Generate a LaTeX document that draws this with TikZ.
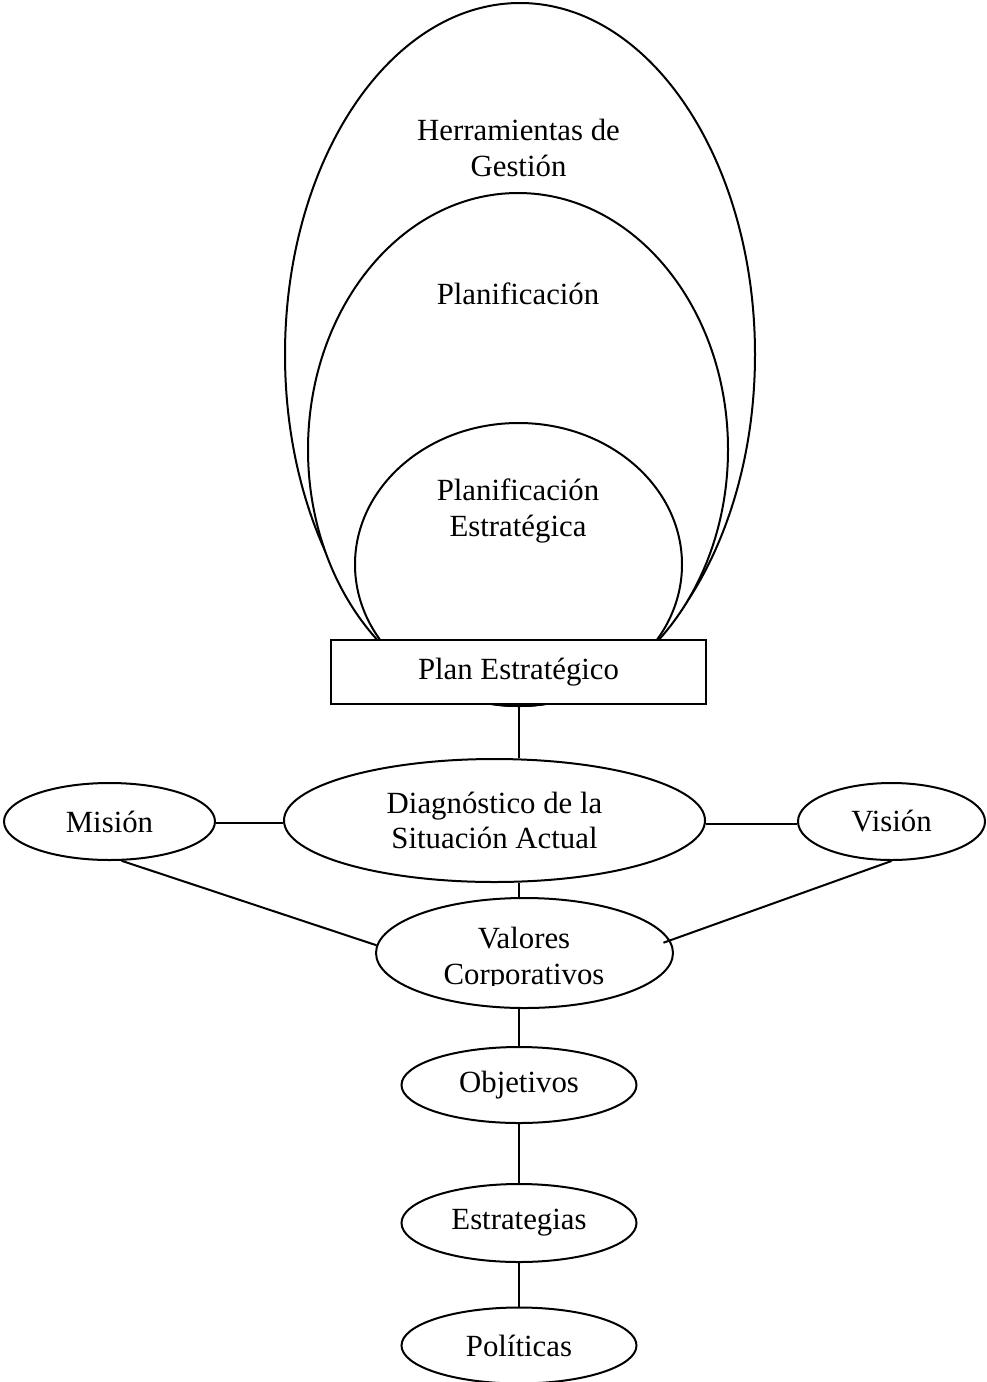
\documentclass[tikz,border=0pt]{standalone}
\usepackage{fontspec}
\setmainfont{Liberation Serif}
\usetikzlibrary{shapes.geometric}
\begin{document}
\begin{tikzpicture}[x=0.5pt,y=-0.5pt,
  every node/.style={font=\fontsize{15.4}{17.75}\selectfont},
  ln/.style={line width=1pt},
  ell/.style={ellipse,draw,line width=1pt,inner sep=0pt,fill=white},
  txt/.style={align=center,inner sep=0pt},
  box/.style={rectangle,draw,line width=1pt,fill=white,inner sep=0pt}]
\useasboundingbox (0,0) rectangle (986,1382);
% nested ellipses
\node[ell,minimum width=235pt,minimum height=351.5pt] (herr) at (520,354.5) {};
\node[ell,minimum width=210pt,minimum height=256.5pt] (plani) at (518,449.5) {};
\node[ell,minimum width=163.5pt,minimum height=141.5pt] (pest) at (518.5,564.5) {};
\node[txt] (herrt) at (518.5,148) {Herramientas de\\Gestión};
\node[txt,anchor=base] (planit) at (518,304) {Planificación};
\node[txt] (pestt) at (518,510.8) {Planificación\\Estratégica};
% plan box
\node[box,minimum width=187.5pt,minimum height=32pt] (plan) at (518.5,672) {Plan Estratégico};
% middle row
\node[ell,minimum width=210.5pt,minimum height=61.5pt,align=center] (diag) at (494.5,820.5) {Diagnóstico de la\\Situación Actual};
\node[ell,minimum width=105.5pt,minimum height=38.5pt] (mision) at (109.5,821.5) {Misión};
\node[ell,minimum width=93.5pt,minimum height=38.5pt] (vision) at (891.5,821.5) {Visión};
\node[ell,minimum width=148.5pt,minimum height=55pt] (valores) at (524.5,953) {};
\begin{scope}
  \clip (376,898) rectangle (673,985.5);
  \node[txt] (valt) at (524,959.3) {Valores\\Corporativos};
\end{scope}
% lower chain
\node[ell,minimum width=117.5pt,minimum height=38pt] (obj) at (519,1085) {Objetivos};
\node[ell,minimum width=117.5pt,minimum height=39pt] (estr) at (519,1223) {Estrategias};
\node[ell,minimum width=117.5pt,minimum height=38pt] (pol) at (519,1345.5) {Políticas};
% connectors
\draw[ln] (plan.south) -- (plan.south |- diag.north);
\draw[ln] ([yshift=-0.6pt]mision.east) -- ([yshift=-0.6pt]mision.east -| diag.west);
\draw[ln] ([yshift=-1.5pt]diag.east) -- ([yshift=-1.5pt]diag.east -| vision.west);
\draw[ln] (plan.south |- diag.south) -- (plan.south |- valores.north);
\draw[ln] (mision.-73) -- (valores.177);
\draw[ln] (vision.south) -- ([xshift=-4pt]valores.4);
\draw[ln] (obj.north |- valores.south) -- (obj.north);
\draw[ln] (obj.south) -- (estr.north);
\draw[ln] (estr.south) -- (pol.north);
\end{tikzpicture}
\end{document}
